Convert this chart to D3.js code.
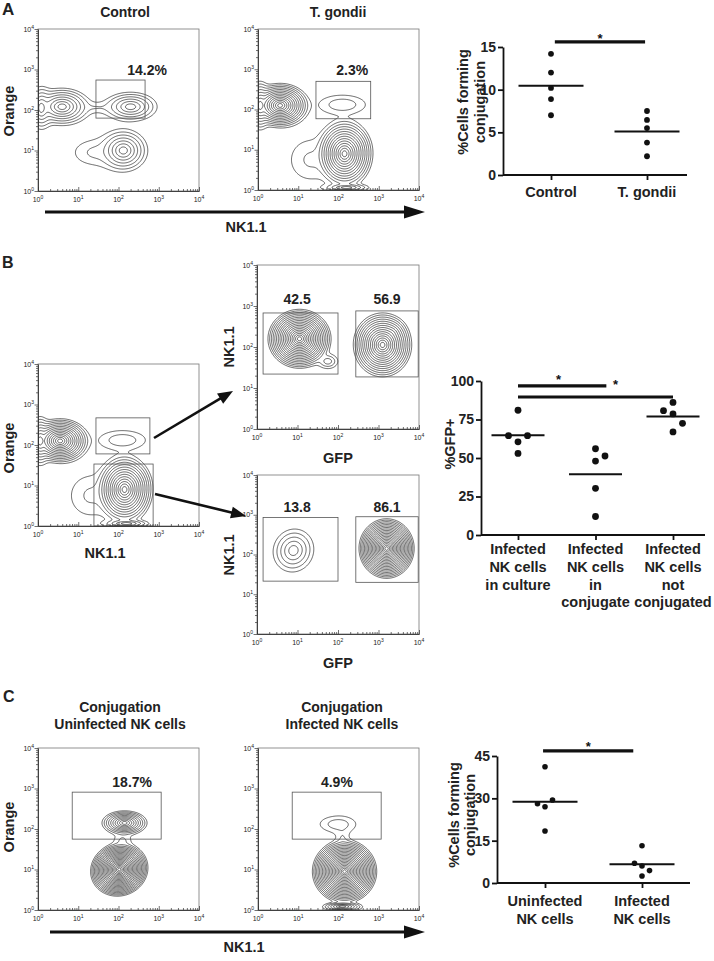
<!DOCTYPE html>
<html>
<head>
<meta charset="utf-8">
<script src="https://cdn.jsdelivr.net/npm/d3@7"></script>
<style>
  body { margin: 0; background: #fff; }
  text { font-family: "Liberation Sans", Arial, Helvetica, sans-serif; }
</style>
</head>
<body>
<svg id="fig" width="714" height="961"></svg>
<script>
// ---- flow populations: [log x centre, log y centre, x extent, y extent, contour rings, tilt deg]
var popsControl = [
  [0.6, 2.08, 0.7, 0.46, 8, 0],
  [0.08, 2.05, 0.3, 0.52, 6, 0],
  [1.45, 2.06, 0.32, 0.09, 1, 0],
  [2.3, 2.08, 0.66, 0.36, 6, 0],
  [2.12, 1.0, 0.6, 0.52, 7, 0],
  [1.4, 0.95, 0.5, 0.3, 1.5, 0]
];
var popsTgondii = [
  [0.55, 2.1, 0.72, 0.55, 14, 0],
  [0.05, 2.1, 0.3, 0.6, 8, 0],
  [2.1, 2.12, 0.58, 0.24, 2.2, 0],
  [2.15, 0.9, 0.7, 0.85, 14, 0],
  [2.45, 1.05, 0.25, 0.3, 5, 0],
  [1.3, 0.75, 0.5, 0.5, 1.5, 0],
  [2.2, 0.06, 0.55, 0.1, 5, 0]
];
var popsGfpConj = [
  [1.05, 2.2, 0.78, 0.72, 18, 0],
  [1.75, 1.65, 0.25, 0.18, 3, 0],
  [3.1, 2.05, 0.72, 0.78, 15, 0],
  [2.85, 2.2, 0.3, 0.35, 6, 0],
  [3.35, 2.35, 0.3, 0.3, 6, 0]
];
var popsGfpFree = [
  [0.9, 2.1, 0.5, 0.55, 5, -20],
  [3.2, 2.15, 0.68, 0.75, 20, 0],
  [2.95, 2.25, 0.25, 0.28, 5, 0],
  [3.42, 2.25, 0.25, 0.28, 5, 0]
];
var popsUninf = [
  [2.15, 2.15, 0.56, 0.3, 10, 0],
  [2.02, 1.0, 0.72, 0.65, 22, 20],
  [1.8, 0.85, 0.3, 0.3, 6, 0],
  [2.1, 1.72, 0.2, 0.15, 1.5, 0]
];
var popsInf = [
  [1.98, 2.12, 0.45, 0.2, 2, 0],
  [2.15, 0.95, 0.8, 0.78, 22, 0],
  [2.5, 1.0, 0.25, 0.35, 7, 0],
  [2.1, 0.08, 0.5, 0.12, 7, 0],
  [2.1, 1.75, 0.12, 0.2, 1.2, 0]
];

// gates [x0, x1, y0, y1] in log units, and gate labels [text, log x, log y]
var gatesControl = [[1.44, 2.66, 1.80, 2.74]];
var gatesTgondii = [[1.44, 2.8, 1.77, 2.7]];
var gatesSort = [[1.44, 2.78, 1.78, 2.67], [1.39, 2.86, 0, 1.53]];
var gatesGfpConj = [[0.15, 2.0, 1.34, 2.83], [2.44, 3.98, 1.27, 2.88]];
var gatesGfpFree = [[0.15, 2.0, 1.33, 2.93], [2.44, 3.98, 1.3, 2.95]];
var gatesConj = [[0.85, 3.06, 1.75, 2.91]];
var labelsControl = [["14.2%", 2.71, 2.86]];
var labelsTgondii = [["2.3%", 2.34, 2.86]];
var labelsGfpConj = [["42.5", 0.99, 3.05], ["56.9", 3.21, 3.05]];
var labelsGfpFree = [["13.8", 0.99, 3.07], ["86.1", 3.21, 3.07]];
var labelsUninf = [["18.7%", 2.34, 3.04]];
var labelsInf = [["4.9%", 1.96, 3.04]];

// ---- dot plots
var catsA = [["Control"], ["T. gondii"]];
var valsA = [[14.2, 12.0, 10.2, 8.9, 7.0], [7.5, 6.45, 5.5, 3.8, 2.2]];
var ticksA = [0, 5, 10, 15];
var sigA = [[0.04, 0.98, 15.6, 0.5, 16.4]];

var catsB = [["Infected", "NK cells", "in culture"], ["Infected", "NK cells", "in", "conjugate"], ["Infected", "NK cells", "not", "conjugated"]];
var valsB = [[81, 60.5, 64.5, 64.5, 53], [56, 48, 51.3, 30.3, 12], [86.1, 78.6, 66.9, 72.5, 80.7]];
var ticksB = [0, 25, 50, 75, 100];
var sigB = [[0, 1.14, 96.8, 0.46, 103.2], [0, 2, 89.6, 0.63, 99.4]];

var catsC = [["Uninfected", "NK cells"], ["Infected", "NK cells"]];
var valsC = [[41.2, 27.0, 18.4, 29.4, 28.1], [13.2, 6.0, 2.5, 4.4, 7.0]];
var ticksC = [0, 15, 30, 45];
var sigC = [[-0.02, 0.91, 46.8, 0.5, 49.6]];

var svg = d3.select("#fig");
svg.append("rect").attr("width", 714).attr("height", 961).attr("fill", "#fff");

var R = 1.35, N = 200, Q = 2.5, clipId = 0;
var thresholds = d3.range(0, 32).map(function(k) { return Math.pow(R, k); });

// soft maximum of the population densities, sampled on an N x N grid of log units
function density(pops) {
  var lnR = Math.log(R);
  var P = pops.map(function(p) {
    var lw = (p[4] + 0.4) * lnR, a = p[5] * Math.PI / 180;
    return { cx: p[0], cy: p[1], sx: p[2] / lw, sy: p[3] / lw, lw: lw, c: Math.cos(a), s: Math.sin(a) };
  });
  var vals = new Float64Array(N * N);
  for (var j = 0; j < N; j++) {
    var y = (j + 0.5) * 4 / N;
    for (var i = 0; i < N; i++) {
      var x = (i + 0.5) * 4 / N, d = 0;
      P.forEach(function(q) {
        var dx = x - q.cx, dy = y - q.cy;
        var u = (q.c * dx + q.s * dy) / q.sx, v = (-q.s * dx + q.c * dy) / q.sy;
        d += Math.exp(Q * (q.lw - Math.sqrt(u * u + v * v + 0.04)));
      });
      vals[j * N + i] = Math.pow(d, 1 / Q);
    }
  }
  return vals;
}

function pow10(g) {
  g.each(function(d) {
    var t = d3.select(this);
    t.append("tspan").text("10");
    t.append("tspan").attr("font-size", 5).attr("dy", -3).text(Math.round(Math.log10(d)));
  });
}

function flowPlot(p) {
  var x0 = p.box[0], x1 = p.box[1], y0 = p.box[2], y1 = p.box[3];
  var xl = d3.scaleLinear().domain([0, 4]).range([x0, x1]);
  var yl = d3.scaleLinear().domain([0, 4]).range([y1, y0]);
  var xs = d3.scaleLog().domain([1, 1e4]).range([x0, x1]);
  var ys = d3.scaleLog().domain([1, 1e4]).range([y1, y0]);
  var g = svg.append("g");
  var id = "clip" + (clipId++);
  svg.append("clipPath").attr("id", id).append("rect")
    .attr("x", x0).attr("y", y0).attr("width", x1 - x0).attr("height", y1 - y0);

  var cs = d3.contours().size([N, N]).thresholds(thresholds)(density(p.pops));
  var ringPath = function(ring) {
    var pts = ring.map(function(q) { return [xl(q[0] * 4 / N), yl(q[1] * 4 / N)]; });
    if (Math.abs(d3.polygonArea(pts)) < 5) return "";
    return "M" + pts.map(function(q) { return q[0].toFixed(2) + "," + q[1].toFixed(2); }).join("L") + "Z";
  };
  g.append("g").attr("clip-path", "url(#" + id + ")")
    .selectAll("path").data(cs).join("path")
    .attr("d", function(c) {
      var s = "";
      c.coordinates.forEach(function(poly) { poly.forEach(function(r) { s += ringPath(r); }); });
      return s || null;
    })
    .attr("fill", "none").attr("stroke", "#000").attr("stroke-width", 0.6);

  g.append("rect").attr("x", x0).attr("y", y0).attr("width", x1 - x0).attr("height", y1 - y0)
    .attr("fill", "none").attr("stroke", "#777").attr("stroke-width", 0.8);

  g.selectAll(".gate").data(p.gates).join("rect")
    .attr("x", function(d) { return xl(d[0]); })
    .attr("y", function(d) { return yl(d[3]); })
    .attr("width", function(d) { return xl(d[1]) - xl(d[0]); })
    .attr("height", function(d) { return yl(d[2]) - yl(d[3]); })
    .attr("fill", "none").attr("stroke", "#555").attr("stroke-width", 0.8);

  g.selectAll(".glab").data(p.labels).join("text")
    .attr("x", function(d) { return xl(d[1]); })
    .attr("y", function(d) { return yl(d[2]); })
    .attr("text-anchor", "middle").attr("font-size", 14).attr("font-weight", "bold")
    .attr("fill", "#222").text(function(d) { return d[0]; });

  var major = [1, 10, 100, 1000, 10000], minor = [];
  for (var k = 0; k < 4; k++) for (var m = 2; m < 10; m++) minor.push(m * Math.pow(10, k));

  var axes = g.append("g");
  axes.append("g").attr("transform", "translate(0," + y1 + ")")
    .call(d3.axisBottom(xs).tickValues(minor).tickSize(-2).tickSizeOuter(0).tickFormat(""));
  axes.append("g").attr("transform", "translate(0," + y1 + ")")
    .call(d3.axisBottom(xs).tickValues(major).tickSize(-4).tickSizeOuter(0).tickFormat(""));
  axes.append("g").attr("transform", "translate(" + x0 + ",0)")
    .call(d3.axisLeft(ys).tickValues(minor).tickSize(2).tickSizeOuter(0).tickFormat(""));
  axes.append("g").attr("transform", "translate(" + x0 + ",0)")
    .call(d3.axisLeft(ys).tickValues(major).tickSize(3.5).tickSizeOuter(0).tickFormat(""));
  axes.selectAll("path, line").attr("stroke", "#333").attr("stroke-width", 0.7);

  g.selectAll(".xl").data(major).join("text")
    .attr("x", function(d) { return xs(d); }).attr("y", y1 + 11)
    .attr("text-anchor", "middle").attr("font-size", 7).attr("fill", "#222").call(pow10);
  g.selectAll(".yl").data(major).join("text")
    .attr("x", x0 - 4).attr("y", function(d) { return ys(d) + 2.5; })
    .attr("text-anchor", "end").attr("font-size", 7).attr("fill", "#222").call(pow10);
}

// spread dots that would overlap, alternating sides like a column scatter
function swarm(vals, y, thr, step) {
  var placed = [], flip = 0;
  return vals.map(function(v) {
    var py = y(v);
    var hits = function(o) {
      return placed.some(function(p) { return Math.abs(p.o - o) < step * 0.5 && Math.abs(p.y - py) < thr; });
    };
    var o = 0;
    if (hits(0)) {
      flip++;
      var side = flip % 2 ? 1 : -1, k = 1;
      while (hits(side * k * step)) k++;
      o = side * k * step;
    }
    placed.push({ o: o, y: py });
    return o;
  });
}

function dotPlot(c) {
  var y = d3.scaleLinear().domain([0, c.ticks[c.ticks.length - 1]]).range(c.yRange);
  var x = d3.scalePoint().domain(d3.range(c.cats.length)).range(c.catRange);
  var step = x(1) - x(0);
  var g = svg.append("g");

  var ya = g.append("g").attr("transform", "translate(" + c.axisX + ",0)")
    .call(d3.axisLeft(y).tickValues(c.ticks).tickSize(5).tickPadding(2).tickSizeOuter(0));
  var xa = g.append("g").attr("transform", "translate(0," + c.yRange[0] + ")")
    .call(d3.axisBottom(x).tickSize(5).tickSizeOuter(0).tickFormat(""));
  xa.select(".domain").remove();
  g.append("line").attr("x1", c.axisX).attr("x2", c.axisEnd)
    .attr("y1", c.yRange[0]).attr("y2", c.yRange[0]);
  g.selectAll("path, line").attr("stroke", "#111").attr("stroke-width", 1.8);
  ya.selectAll("text").attr("font-size", 14).attr("font-weight", "bold").attr("fill", "#222")
    .attr("font-family", "Liberation Sans, Arial, sans-serif");

  c.cats.forEach(function(lines, i) {
    lines.forEach(function(s, li) {
      g.append("text").attr("x", x(i)).attr("y", c.labelBase + li * c.lineH)
        .attr("text-anchor", "middle").attr("font-size", 14.5)
        .attr("font-weight", "bold").attr("fill", "#222").text(s);
    });
  });

  c.vals.forEach(function(vs, i) {
    var offs = swarm(vs, y, c.thr, c.step);
    g.append("g").selectAll("circle").data(vs).join("circle")
      .attr("cx", function(d, j) { return x(i) + offs[j]; })
      .attr("cy", function(d) { return y(d); })
      .attr("r", c.r).attr("fill", "#111");
    var mu = d3.mean(vs);
    g.append("line").attr("x1", x(i) - c.half).attr("x2", x(i) + c.half)
      .attr("y1", y(mu)).attr("y2", y(mu)).attr("stroke", "#111").attr("stroke-width", 2);
  });

  c.sig.forEach(function(s) {
    var xa0 = x(0) + s[0] * step, xa1 = x(0) + s[1] * step;
    g.append("line").attr("x1", xa0).attr("x2", xa1).attr("y1", y(s[2])).attr("y2", y(s[2]))
      .attr("stroke", "#111").attr("stroke-width", 3.2);
    g.append("text").attr("x", xa0 + s[3] * (xa1 - xa0)).attr("y", y(s[4]) + 7.5)
      .attr("text-anchor", "middle").attr("font-size", 13).attr("font-weight", "bold")
      .attr("fill", "#111").text("*");
  });

  c.title.forEach(function(s, li) {
    g.append("text").attr("transform", "translate(" + c.titleX[li] + "," + c.titleY + ") rotate(-90)")
      .attr("text-anchor", "middle").attr("font-size", 14.5).attr("font-weight", "bold")
      .attr("fill", "#222").text(s);
  });
}

function label(txt, x, y, size, rot, anchor) {
  svg.append("text").attr("transform", "translate(" + x + "," + y + ")" + (rot ? " rotate(-90)" : ""))
    .attr("text-anchor", anchor || "middle").attr("font-size", size).attr("font-weight", "bold")
    .attr("fill", "#222").text(txt);
}

function arrow(xa, ya, xb, yb, sw, hl, hw) {
  var a = Math.atan2(yb - ya, xb - xa), c = Math.cos(a), s = Math.sin(a);
  var bx = xb - hl * c, by = yb - hl * s;
  svg.append("line").attr("x1", xa).attr("y1", ya).attr("x2", bx + c).attr("y2", by + s)
    .attr("stroke", "#111").attr("stroke-width", sw);
  svg.append("path").attr("fill", "#111")
    .attr("d", "M" + xb + "," + yb + "L" + (bx - hw * s) + "," + (by + hw * c) + "L" + (bx + hw * s) + "," + (by - hw * c) + "Z");
}

// ---- panel A
flowPlot({ box: [38, 199, 29, 191], pops: popsControl, gates: gatesControl, labels: labelsControl });
flowPlot({ box: [258, 419, 29, 190], pops: popsTgondii, gates: gatesTgondii, labels: labelsTgondii });
label("A", 2, 15, 17, false, "start");
label("Control", 125, 17, 14);
label("T. gondii", 338, 17, 14);
label("Orange", 14, 111, 14.5, true);
arrow(45, 212, 425, 212, 3, 21, 6.5);
label("NK1.1", 246, 232, 14.5);
dotPlot({ cats: catsA, vals: valsA, ticks: ticksA, sig: sigA, yRange: [175, 47], catRange: [551, 647],
  axisX: 503, axisEnd: 687, r: 2.9, thr: 8, step: 8, half: 32.5, labelBase: 197, lineH: 18,
  title: ["%Cells forming", "conjugation"], titleX: [468, 485], titleY: 102 });

// ---- panel B
label("B", 2, 268, 16, false, "start");
flowPlot({ box: [38, 199, 364, 526], pops: popsTgondii, gates: gatesSort, labels: [] });
label("Orange", 14, 448, 14.5, true);
label("NK1.1", 105, 558, 14.5);
flowPlot({ box: [257, 419, 265, 429], pops: popsGfpConj, gates: gatesGfpConj, labels: labelsGfpConj });
flowPlot({ box: [257, 419, 475, 634], pops: popsGfpFree, gates: gatesGfpFree, labels: labelsGfpFree });
label("NK1.1", 234, 347, 14.5, true);
label("NK1.1", 234, 555, 14.5, true);
label("GFP", 338, 463, 14.5);
label("GFP", 338, 668, 14.5);
arrow(154, 438, 233, 391, 2.6, 15, 6);
arrow(155, 494, 246, 516, 2.6, 15, 6);
dotPlot({ cats: catsB, vals: valsB, ticks: ticksB, sig: sigB, yRange: [535, 381], catRange: [518, 673],
  axisX: 481, axisEnd: 705, r: 3.4, thr: 10, step: 9.5, half: 26.5, labelBase: 554, lineH: 17.8,
  title: ["%GFP+"], titleX: [455], titleY: 444 });

// ---- panel C
label("C", 3, 702, 16, false, "start");
flowPlot({ box: [38, 199, 748, 910], pops: popsUninf, gates: gatesConj, labels: labelsUninf });
flowPlot({ box: [258, 419, 748, 910], pops: popsInf, gates: gatesConj, labels: labelsInf });
label("Conjugation", 120, 712, 14);
label("Uninfected NK cells", 120, 729, 14);
label("Conjugation", 342, 712, 14);
label("Infected NK cells", 342, 729, 14);
label("Orange", 14, 827, 14.5, true);
arrow(50, 932, 425, 932, 3, 21, 6.5);
label("NK1.1", 244, 952, 14.5);
dotPlot({ cats: catsC, vals: valsC, ticks: ticksC, sig: sigC, yRange: [883, 756], catRange: [545, 642],
  axisX: 497, axisEnd: 690, r: 2.8, thr: 9, step: 7.5, half: 32.5, labelBase: 906, lineH: 18,
  title: ["%Cells forming", "conjugation"], titleX: [459, 475], titleY: 815 });
</script>
</body>
</html>
